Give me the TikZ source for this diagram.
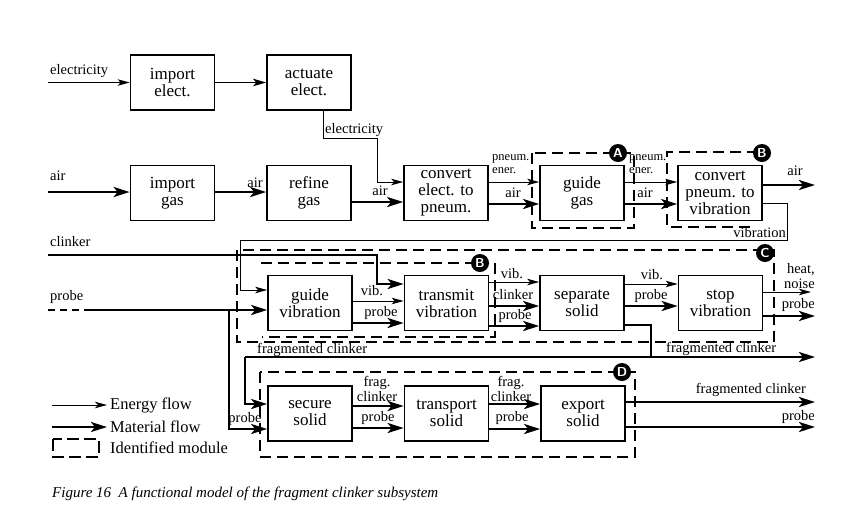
\documentclass[tikz,border=0pt]{standalone}
\usepackage{fontspec}
\setmainfont{Liberation Serif}
\usetikzlibrary{arrows.meta}
\begin{document}
\begin{tikzpicture}[x=1pt,y=-1pt,
 box/.style={draw,line width=1.7pt,minimum width=84pt,minimum height=55pt,align=center,inner sep=1pt,font=\fontsize{17}{17}\selectfont},
 lab/.style={inner sep=0pt,font=\fontsize{14.5}{14.5}\selectfont},
 slab/.style={inner sep=0pt,align=left,font=\fontsize{12.5}{13}\selectfont},
 leg/.style={inner sep=0pt,anchor=west,font=\fontsize{16.5}{16.5}\selectfont},
 en/.style={line width=1pt,-{Stealth[length=12pt,width=6.5pt,inset=3pt]}},
 ma/.style={line width=2.7pt,-{Stealth[length=16pt,width=10pt,inset=4pt]}},
 enl/.style={line width=1pt},
 mal/.style={line width=2.7pt},
 mod/.style={line width=2.4pt,dash pattern=on 11pt off 6pt},
 tag/.style={circle,fill=black,text=white,inner sep=0pt,minimum size=18pt,font=\sffamily\bfseries\fontsize{13}{13}\selectfont}
]
\useasboundingbox[fill=white] (0,0) rectangle (858,531);

% ---- function boxes
\node[box] (ie) at (172.5,82.5) {import\\elect.};
\node[box] (ae) at (309,82.5) {actuate\\elect.};
\node[box] (ig) at (172.5,193) {import\\gas};
\node[box] (rg) at (309,193) {refine\\gas};
\node[box] (ce) at (446,193) {convert\\elect. to\\pneum.};
\node[box] (gg) at (582,193) {guide\\gas};
\node[box] (cp) at (720,193) {convert\\pneum. to\\vibration};
\node[box] (gv) at (310,303) {guide\\vibration};
\node[box] (tv) at (446.5,303) {transmit\\vibration};
\node[box] (ss) at (582,303) {separate\\solid};
\node[box] (sv) at (720.5,303) {stop\\vibration};
\node[box] (sc) at (310,413.5) {secure\\solid};
\node[box] (ts) at (446.5,413.5) {transport\\solid};
\node[box] (es) at (583,413.5) {export\\solid};

% ---- identified modules
\draw[mod] (532,153) rectangle (634,228);
\draw[mod] (758,152) -- (667,152) -- (667,227) -- (754,227);
\draw[mod] (237,250) rectangle (774,342);
\draw[mod] (476,263) -- (260,263);
\draw[mod] (495,263) -- (495,337) -- (262,337);
\draw[mod] (260,372) rectangle (635,457);

% ---- free ends
\coordinate (elin) at (48,82.5);
\coordinate (airin) at (48,192);
\coordinate (clin) at (48,255);
\coordinate (prin) at (48,310);
\coordinate (prs) at (86,310);
\coordinate (prbr) at (229,310);
\coordinate (airout) at (815,185);
\coordinate (hnout) at (811,292);
\coordinate (pvout) at (815,316);
\coordinate (fcj) at (651,357);
\coordinate (fcl) at (245,357);
\coordinate (fcout) at (815,357);
\coordinate (fcout2) at (815,402);
\coordinate (prout2) at (815,427);

% ---- electricity
\draw[en] (elin) -- (ie.west);
\draw[line width=1.8pt,-{Stealth[length=13pt,width=7.5pt,inset=3pt]}] (ie.east) -- (ae.west);
\draw[en] (ae.south -| 323,0) -- (323,138) -- (377,138) -- (377,182) -- (ce.west |- 0,182);
\node[lab,anchor=west] (l1) at (50,71) {electricity};
\node[lab,anchor=west] (l2) at (325,130) {electricity};

% ---- air
\draw[ma] (airin) -- (ig.west |- 0,192);
\draw[ma] (ig.east |- 0,192) -- (rg.west |- 0,192);
\draw[ma] (rg.east |- 0,202) -- (ce.west |- 0,202);
\draw[en] (ce.east |- 0,182) -- (gg.west |- 0,182);
\draw[ma] (ce.east |- 0,204) -- (gg.west |- 0,204);
\draw[en] (gg.east |- 0,182) -- (cp.west |- 0,182);
\draw[ma] (gg.east |- 0,204) -- (cp.west |- 0,204);
\draw[ma] (cp.east |- 0,185) -- (airout);
\node[lab,anchor=west] (l3) at (50,176) {air};
\node[lab] (l4) at (255,183) {air};
\node[lab] (l5) at (380,191) {air};
\node[slab,anchor=north west] (l6) at (492,154) {pneum.\\ener.};
\node[lab] (l7) at (513,193) {air};
\node[slab,anchor=north west] (l8) at (629,154) {pneum.\\ener.};
\node[lab] (l9) at (645,193) {air};
\node[lab] (l10) at (795,171) {air};

% ---- vibration return
\draw[en] (cp.east |- 0,203) -- (787,203) -- (787,240) -- (240,240) -- (240,290) -- (gv.west |- 0,290);
\node[lab,anchor=east] (l11) at (786,233) {vibration};

% ---- clinker and probe inputs
\draw[ma] (clin) -- (377,255) -- (377,284) -- (tv.west |- 0,284);
\draw[mal,dash pattern=on 7pt off 5pt] (prin) -- (prs);
\draw[ma] (prs) -- (gv.west |- 0,310);
\draw[ma] (prbr) -- (229,429) -- (sc.west |- 0,429);
\node[lab,anchor=west] (l12) at (50,242) {clinker};
\node[lab,anchor=west] (l13) at (50,297) {probe};

% ---- row 3
\draw[en] (gv.east |- 0,301) -- (tv.west |- 0,301);
\draw[ma] (gv.east |- 0,323) -- (tv.west |- 0,323);
\node[lab] (l14) at (372,291) {vib.};
\node[lab] (l15) at (381,313) {probe};
\draw[en] (tv.east |- 0,282) -- (ss.west |- 0,282);
\draw[ma] (tv.east |- 0,306) -- (ss.west |- 0,306);
\draw[ma] (tv.east |- 0,326) -- (ss.west |- 0,326);
\node[lab] (l16) at (512,274) {vib.};
\node[lab] (l17) at (513,295) {clinker};
\node[lab] (l18) at (515,316) {probe};
\draw[en] (ss.east |- 0,284) -- (sv.west |- 0,284);
\draw[ma] (ss.east |- 0,306) -- (sv.west |- 0,306);
\node[lab] (l19) at (652,275) {vib.};
\node[lab] (l20) at (651,296) {probe};
\draw[en] (sv.east |- 0,292) -- (hnout);
\draw[ma] (sv.east |- 0,316) -- (pvout);
\node[lab,anchor=east,align=right] (l21) at (815,276) {heat,\\noise};
\node[lab,anchor=east] (l22) at (815,305) {probe};

% ---- fragmented clinker
\draw[mal] (ss.east |- 0,325) -- (651,325) -- (fcj);
\draw[ma] (fcl) -- (fcout);
\draw[ma] (fcl) -- (245,404) -- (sc.west |- 0,404);
\node[lab,anchor=west] (l23) at (257,350) {fragmented clinker};
\node[lab,anchor=west] (l24) at (666,349) {fragmented clinker};
\node[lab] (l25) at (245,419) {probe};

% ---- row 4
\draw[ma] (sc.east |- 0,406) -- (ts.west |- 0,406);
\draw[ma] (sc.east |- 0,428) -- (ts.west |- 0,428);
\node[lab,align=center] (l26) at (377,389) {frag.\\clinker};
\node[lab] (l27) at (378,418) {probe};
\draw[ma] (ts.east |- 0,404) -- (es.west |- 0,404);
\draw[ma] (ts.east |- 0,429) -- (es.west |- 0,429);
\node[lab,align=center] (l28) at (511,389) {frag.\\clinker};
\node[lab] (l29) at (512,418) {probe};
\draw[ma] (es.east |- 0,402) -- (fcout2);
\draw[ma] (es.east |- 0,427) -- (prout2);
\node[lab,anchor=east] (l30) at (806,390) {fragmented clinker};
\node[lab,anchor=east] (l31) at (815,417) {probe};

% ---- tags
\node[tag] (tA) at (618,153) {A};
\node[tag] (tB1) at (762,153) {B};
\node[tag] (tC) at (765,253) {C};
\node[tag] (tB2) at (480,263) {B};
\node[tag] (tD) at (622,372) {D};

% ---- legend
\coordinate (le1) at (52,405);
\coordinate (le2) at (107,405);
\coordinate (lm1) at (52,427);
\coordinate (lm2) at (107,427);
\draw[en] (le1) -- (le2);
\draw[ma] (lm1) -- (lm2);
\draw[line width=2.4pt,dash pattern=on 12pt off 5pt] (53,439) rectangle (99,457);
\node[leg] (g1) at (110,405) {Energy flow};
\node[leg] (g2) at (110,427) {Material flow};
\node[leg] (g3) at (110,448) {Identified module};

% ---- caption
\node[inner sep=0pt,anchor=west,font=\itshape\fontsize{15}{15}\selectfont] (cap) at (52,494) {Figure 16\ \ A functional model of the fragment clinker subsystem};
\end{tikzpicture}
\end{document}
